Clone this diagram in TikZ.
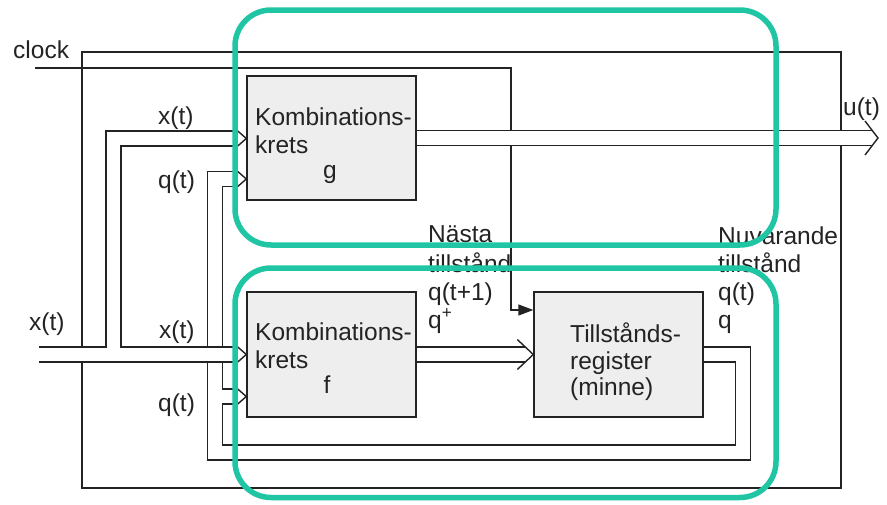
\documentclass[tikz,border=0pt]{standalone}
\usepackage{fontspec}
\setmainfont{Liberation Sans}
\usetikzlibrary{arrows.meta,calc}
\definecolor{ink}{RGB}{35,35,35}
\definecolor{hlteal}{RGB}{32,198,164}
\definecolor{boxfill}{RGB}{238,238,238}

% open chevron head of a bus: tip, length, half height
\newcommand{\busarrow}[3]{\draw[chev] ($(#1)+(-#2,-#3)$) -- (#1) -- ($(#1)+(-#2,#3)$);}

\begin{document}
\begin{tikzpicture}[x=1pt,y=-1pt,
  wire/.style={draw=ink,line width=1.4pt},
  busout/.style={draw=ink,line width=16.4pt,line join=miter,line cap=butt},
  busin/.style={draw=white,line width=13.6pt,line join=miter,line cap=butt},
  blk/.style={draw=ink,line width=1.4pt,fill=boxfill,minimum width=169pt,minimum height=125pt,inner sep=0pt},
  lbl/.style={inner sep=0pt,anchor=base west,text=ink,font=\fontsize{24.5}{28}\selectfont},
  lblc/.style={lbl,anchor=base},
  chev/.style={draw=ink,line width=1.4pt,line join=miter},
  hl/.style={draw=hlteal,line width=5.5pt,rounded corners=36pt}]

\useasboundingbox (0,0) rectangle (887,504);

% block positions (nodes are drawn later, on top of the buses)
\path (331.5,138) coordinate (gc) (331.5,354.5) coordinate (fc) (618.5,354.5) coordinate (rc);
\path[blk,draw=none,fill=none] (gc) node[blk,draw=none,fill=none,minimum height=124pt] (g) {}
  (fc) node[blk,draw=none,fill=none] (f) {}
  (rc) node[blk,draw=none,fill=none] (reg) {};

% outer frame
\node[draw=ink,line width=1.4pt,minimum width=759pt,minimum height=436pt,inner sep=0pt] (frame) at (461.5,270) {};

% clock line to the register
\coordinate (clk) at (35,68);
\coordinate (clkc) at (511,68);
\coordinate (clkd) at (511,310);
\draw[wire,-{Triangle[length=15pt,width=11pt]}] (clk) -- (clkc) -- (clkd) -- (clkd -| reg.west);

% bus routing points
\coordinate (xin) at (39,354.5);
\coordinate (xsplit) at (113.5,354.5);
\coordinate (xup) at (113.5,138.5);
\coordinate (qe) at (743,354.5);
\coordinate (qb) at (743,452.5);
\coordinate (qbl) at (215,452.5);
\coordinate (qg) at (215,179);
\coordinate (qf) at (215,396.5);
\coordinate (gxT) at (xup -| g.west);
\coordinate (gqT) at (qg -| g.west);
\coordinate (fxT) at (xin -| f.west);
\coordinate (fqT) at (qf -| f.west);
\coordinate (rT) at (f.east -| reg.west);
\coordinate (uT) at (878,138);

% state bus q(t): register -> f and g
\draw[busout] (reg.east) -- (qe) -- (qb) -- (qbl) -- (qg) -- ($(gqT)+(-8.6,0)$);
\draw[busout] (qf) -- ($(fqT)+(-8.6,0)$);
\draw[busin] (reg.east) -- (qe) -- (qb) -- (qbl) -- (qg) -- ($(gqT)+(-8.6,0)$);
\draw[busin] (qf) -- ($(fqT)+(-8.6,0)$);

% input bus x(t) -> f and g
\draw[busout] (xin) -- ($(fxT)+(-8.6,0)$);
\draw[busout] (xsplit) -- (xup) -- ($(gxT)+(-8.6,0)$);
\draw[busin] (xin) -- ($(fxT)+(-8.6,0)$);
\draw[busin] (xsplit) -- (xup) -- ($(gxT)+(-8.6,0)$);

% next state f -> register
\draw[busout] (f.east) -- ($(rT)+(-8,0)$);
\draw[busin] (f.east) -- ($(rT)+(-8,0)$);

% output u(t)
\draw[busout] (g.east) -- ($(uT)+(-5.7,0)$);
\draw[busin] (g.east) -- ($(uT)+(-5.7,0)$);

% blocks
\node[blk,minimum height=124pt] (gbox) at (gc) {};
\node[blk] (fbox) at (fc) {};
\node[blk] (regbox) at (rc) {};

% bus heads
\busarrow{gxT}{12}{10.5}
\busarrow{gqT}{12}{10.5}
\busarrow{fxT}{12}{10.5}
\busarrow{fqT}{12}{10.5}
\busarrow{rT}{16}{15}
\busarrow{uT}{13}{17}

% block texts
\node[lbl] (g1) at (255,125) {Kombinations-};
\node[lbl] (g2) at (255,153) {krets};
\node[lblc] (g3) at (330,178) {g};
\node[lbl] (f1) at (255,340) {Kombinations-};
\node[lbl] (f2) at (255,368) {krets};
\node[lblc] (f3) at (327,393) {f};
\node[lbl] (r1) at (570,342) {Tillstånds-};
\node[lbl] (r2) at (570,369) {register};
\node[lbl] (r3) at (570,395) {(minne)};

% signal labels
\node[lbl] (tclock) at (13,58) {clock};
\node[lbl] (tx1) at (158,124) {x(t)};
\node[lbl] (tq1) at (158,188) {q(t)};
\node[lbl] (tx0) at (29,330) {x(t)};
\node[lbl] (tx2) at (159,338) {x(t)};
\node[lbl] (tq2) at (158,411) {q(t)};
\node[lbl] (tu) at (843,115) {u(t)};
\node[lbl] (n1) at (428,242) {Nästa};
\node[lbl] (n2) at (428,272) {tillstånd};
\node[lbl] (n3) at (428,300) {q(t+1)};
\node[lbl] (n4) at (428,328) {q\textsuperscript{+}};
\node[lbl] (c1) at (718,244) {Nuvarande};
\node[lbl] (c2) at (718,272) {tillstånd};
\node[lbl] (c3) at (718,300) {q(t)};
\node[lbl] (c4) at (718,328) {q};

% highlight frames
\draw[hl] (235,10) rectangle (776,245);
\draw[hl] (235,268) rectangle (776,497.5);
\end{tikzpicture}
\end{document}
